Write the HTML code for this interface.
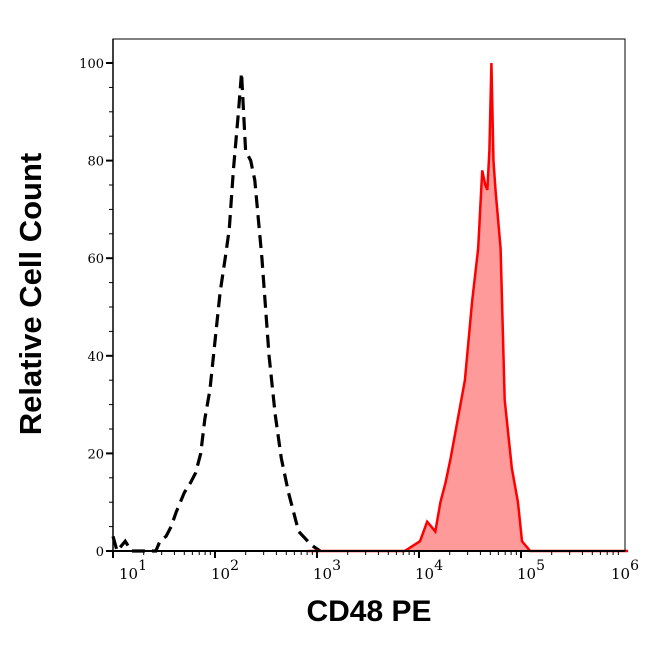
<!DOCTYPE html>
<html><head><meta charset="utf-8"><style>
body{margin:0;background:#fff;width:646px;height:641px;overflow:hidden}
svg text{font-family:"DejaVu Serif","Liberation Serif",serif}
</style></head><body>
<svg id="c" width="646" height="641"></svg>
<script>
const blackLog=[1.0,1.04,1.12,1.18,1.27,1.36,1.42,1.46,1.52,1.57,1.62,1.70,1.76,1.81,1.86,1.90,1.95,2.01,2.05,2.10,2.14,2.18,2.23,2.26,2.30,2.35,2.39,2.46,2.53,2.59,2.65,2.72,2.82,2.91,2.96,3.03];
const blackVal=[3,0,2,0,0,0,0,2,3,5,8,12,14,16,20,27,33,45,53,60,66,78,90,98,82,80,76,60,40,28,19,12,4,2,1,0];
const redLog=[2.91,3.78,3.86,4.01,4.08,4.16,4.21,4.26,4.31,4.38,4.45,4.52,4.58,4.62,4.65,4.67,4.69,4.71,4.73,4.75,4.80,4.84,4.91,4.97,5.01,5.09,5.32,6.05];
const redVal=[0,0,0,2,6,4,10,14,19,27,35,51,62,78,75,74,82,100,80,74,62,31,17,10,2,0,0,0];
const yTicks=[0,20,40,60,80,100];
const xDecades=[1,2,3,4,5,6];
const L=113,R=625,T=39,B=551;
const sx=v=>113+(v-1)*102;
const sy=v=>551-v*4.88;
const svg=document.getElementById('c');
const NS='http://www.w3.org/2000/svg';
function mk(t,a,p){const e=document.createElementNS(NS,t);for(const k in a)e.setAttribute(k,a[k]);(p||svg).appendChild(e);return e;}
let pts=redLog.map((l,i)=>sx(l)+','+sy(redVal[i]));
const fill=mk('polygon',{points:sx(redLog[0])+','+B+' '+pts.join(' ')+' '+sx(redLog[redLog.length-1])+','+B,fill:'#ff9a9a',stroke:'none'});


const bl=mk('polyline',{points:blackLog.map((l,i)=>sx(l)+','+sy(blackVal[i])).join(' '),fill:'none',stroke:'#000','stroke-width':3.2,'stroke-dasharray':'13,7'});


const rl=mk('polyline',{points:pts.join(' '),fill:'none',stroke:'#ff0000','stroke-width':2.5});


const fr=mk('rect',{x:L,y:T,width:R-L,height:B-T,fill:'none',stroke:'#000','stroke-width':1});


mk('line',{x1:L,y1:B,x2:R,y2:B,stroke:'#000','stroke-width':2});
mk('line',{x1:L,y1:T,x2:L,y2:B,stroke:'#000','stroke-width':1.5});
for(let v=0;v<=100;v+=5){const maj=v%20===0;mk('line',{x1:L-(maj?7:4),x2:L,y1:sy(v),y2:sy(v),stroke:'#000','stroke-width':maj?2:1});}
yTicks.forEach(v=>{const t=mk('text',{x:L-9,y:sy(v)+5,'text-anchor':'end','font-size':13});t.textContent=v;

});
for(let d=0;d<6;d++){for(let m=1;m<10;m++){const x=sx(d+Math.log10(m));if(x<L-2||x>R+1)continue;mk('line',{x1:x,x2:x,y1:B,y2:B+(m===1?7:4),stroke:'#000','stroke-width':m===1?2:1});}}
xDecades.forEach(d=>{const x=d===6?sx(d)-12:(d===1?sx(d)+6:sx(d)-4);const t=mk('text',{x:x,y:B+28,'font-size':15});t.innerHTML='10<tspan dy="-9" font-size="14">'+d+'</tspan>';

});
const xt=mk('text',{x:369,y:621,'text-anchor':'middle','font-size':30,'font-weight':'bold',style:'font-family:"Liberation Sans",sans-serif'});xt.textContent='CD48 PE';


const yt=mk('text',{x:0,y:0,'text-anchor':'middle','font-size':31,'font-weight':'bold',transform:'translate(41,294) rotate(-90)',style:'font-family:"Liberation Sans",sans-serif'});yt.textContent='Relative Cell Count';


</script>
</body></html>
